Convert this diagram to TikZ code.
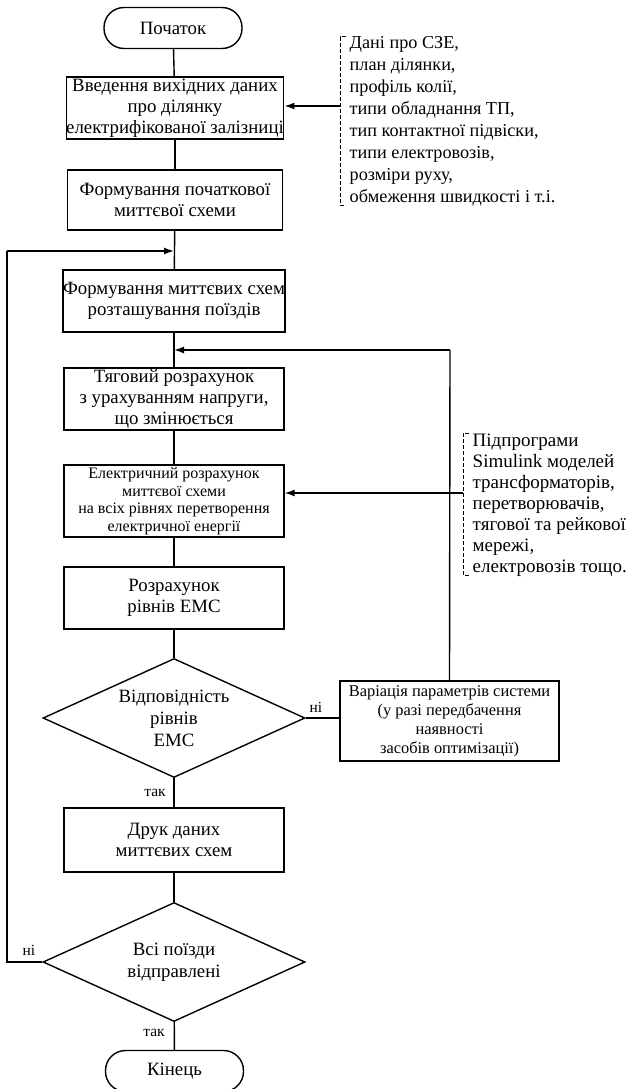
\documentclass[tikz,border=0pt]{standalone}
\usepackage{fontspec}
\setmainfont{Liberation Serif}
\usetikzlibrary{shapes.geometric,arrows.meta}
\begin{document}
\begin{tikzpicture}[x=1pt,y=-1pt,
  line width=1.4pt,
  box/.style={draw,rectangle,align=center,inner sep=0pt,font=\fontsize{18.8}{21}\selectfont},
  term/.style={draw,rectangle,rounded corners=20pt,minimum width=138pt,minimum height=41pt,font=\fontsize{18.8}{21}\selectfont},
  dec/.style={draw,diamond,aspect=2.2,minimum width=262pt,minimum height=119pt,inner sep=0pt,align=center,font=\fontsize{18.8}{22}\selectfont},
  lbl/.style={font=\fontsize{15.5}{18}\selectfont,inner sep=1pt},
  note/.style={align=left,anchor=north west,inner sep=0pt},
  brk/.style={line width=1pt,dash pattern=on 4pt off 2pt},
  arr/.style={-{Latex[length=10pt,width=7pt]}},
  ln/.style={line width=1.4pt}]
\useasboundingbox (0,0) rectangle (630,1089);
\fill[white] (0,0) rectangle (630,1089);

\node[term] (start) at (173,28) {Початок};
\node[box,minimum width=215pt,minimum height=62pt] (b1) at (175,108) {Введення вихідних даних\\про ділянку\\електрифікованої залізниці};
\node[box,minimum width=215pt,minimum height=60pt] (b2) at (175,200) {Формування початкової\\миттєвої схеми};
\node[box,minimum width=220pt,minimum height=62pt] (b3) at (174,301) {Формування миттєвих схем\\розташування поїздів};
\node[box,minimum width=220pt,minimum height=62pt] (b4) at (174,399) {Тяговий розрахунок\\з урахуванням напруги,\\що змінюється};
\node[box,minimum width=220pt,minimum height=72pt,font=\fontsize{16}{17.5}\selectfont] (b5) at (174,501) {Електричний розрахунок\\миттєвої схеми\\на всіх рівнях перетворення\\електричної енергії};
\node[box,minimum width=220pt,minimum height=62pt] (b6) at (174,598) {Розрахунок\\рівнів ЕМС};
\node[dec] (d1) at (174,718) {Відповідність\\рівнів\\ЕМС};
\node[box,minimum width=219pt,minimum height=80pt,font=\fontsize{16.4}{19}\selectfont] (var) at (449.5,721) {Варіація параметрів системи\\(у разі передбачення\\наявності\\засобів оптимізації)};
\node[box,minimum width=220pt,minimum height=64pt] (b7) at (174,840) {Друк даних\\миттєвих схем};
\node[dec] (d2) at (174,962) {Всі поїзди\\відправлені};
\node[term] (end) at (174.5,1071) {Кінець};

% main flow
\draw[ln] (start) -- (b1);
\draw[ln] (b1) -- (b2);
\draw[ln] (b2) -- (b3);
\draw[ln] (b3) -- (b4);
\draw[ln] (b4) -- (b5);
\draw[ln] (b5) -- (b6);
\draw[ln] (b6) -- (d1);
\draw[ln] (d1) -- (b7);
\draw[ln] (b7) -- (d2);
\draw[ln] (d2) -- (end);
\draw[ln] (d1.east) -- (d1.east -| var.west);

% loop back from d2
\coordinate (loopL) at (7,962);
\coordinate (loopT) at (7,251);
\coordinate (loopE) at (174,251);
\draw[ln] (d2.west) -- (loopL) -- (loopT);
\draw[ln,arr] (loopT) -- (loopE);

% loop back from variation
\coordinate (varT) at (450,350);
\coordinate (varE) at (174,350);
\draw[ln] (var.north) -- (varT);
\draw[ln,arr] (varT) -- (varE);

% labels
\node[lbl] (l1) at (316,707) {ні};
\node[lbl] (l2) at (155,793) {так};
\node[lbl] (l3) at (29,950) {ні};
\node[lbl] (l4) at (154,1033) {так};

% note 1
\node[note,font=\fontsize{18.2}{22}\selectfont] (n1) at (349,36) {Дані про СЗЕ,\\план ділянки,\\профіль колії,\\типи обладнання ТП,\\тип контактної підвіски,\\типи електровозів,\\розміри руху,\\обмеження швидкості і т.і.};
\draw[brk] (346,37) -- (340,37) -- (340,205) -- (346,205);
\coordinate (c1) at (340,106);
\draw[ln,arr] (c1) -- (c1 -| b1.east);

% note 2
\node[note,font=\fontsize{19}{21}\selectfont] (n2) at (472,433) {Підпрограми\\Simulink моделей\\трансформаторів,\\перетворювачів,\\тягової та рейкової\\мережі,\\електровозів тощо.};
\draw[brk] (469,433) -- (463,433) -- (463,575) -- (469,575);
\coordinate (c2) at (463,493);
\draw[ln,arr] (c2) -- (c2 -| b5.east);
\end{tikzpicture}
\end{document}
